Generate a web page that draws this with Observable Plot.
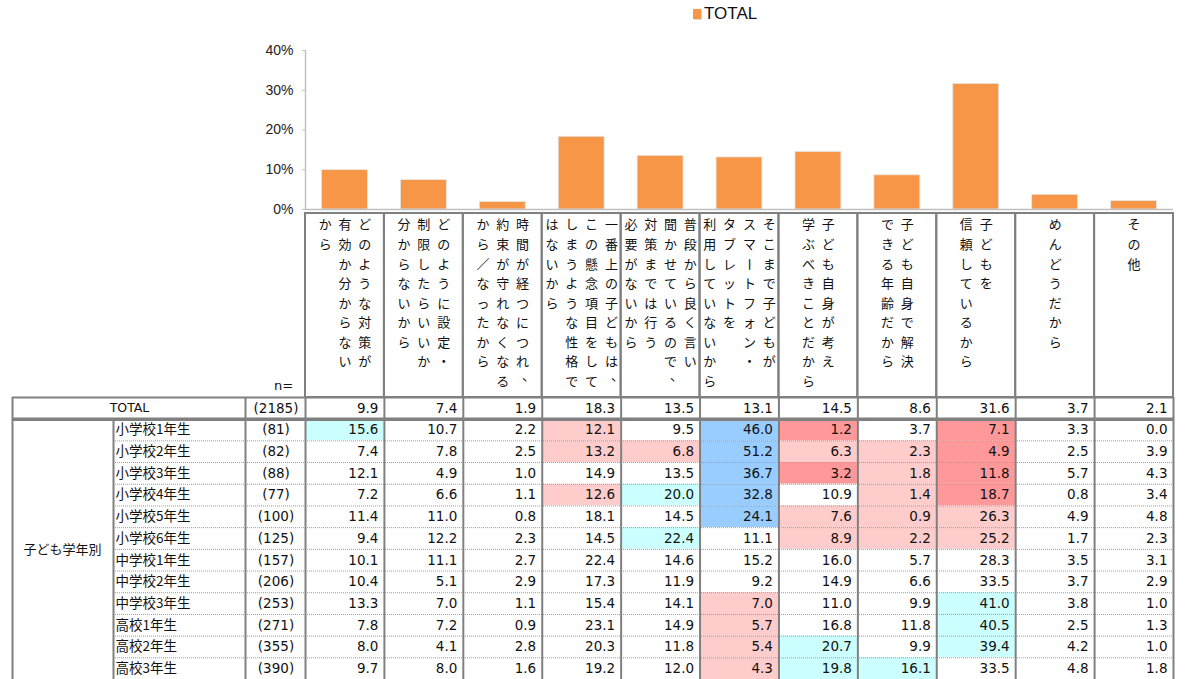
<!DOCTYPE html>
<html><head><meta charset="utf-8">
<script src="https://cdn.jsdelivr.net/npm/d3@7"></script>
<script src="https://cdn.jsdelivr.net/npm/@observablehq/plot@0.6"></script>
<style>
body{margin:0;background:#fff;}
#wrap{position:relative;width:1185px;height:679px;overflow:hidden;background:#fff;}
.abs{position:absolute;left:0;}
#legend{position:absolute;left:693px;top:4px;font-family:"Liberation Sans",Arial,sans-serif;font-size:17px;color:#111;display:flex;align-items:center;}
#legend span.sw{display:inline-block;width:8px;height:10px;background:#F79646;margin-right:3px;box-shadow:1px 1px 0 #ddd;}
</style>
</head><body>
<div id="wrap">
  <div id="legend"><span class="sw"></span>TOTAL</div>
  <div id="pA" class="abs" style="top:0"></div>
  <div id="pB" class="abs" style="top:210px"></div>
  <div id="pC" class="abs" style="top:395px"></div>
</div>
<script>
// ---------------- DATA ----------------
const categories = [
  "どのような対策が有効か分からないから",
  "どのように設定・制限したらいいか分からないから",
  "時間が経つにつれ、約束が守れなくなるから／なったから",
  "一番上の子どもは、この懸念項目をしてしまうような性格ではないから",
  "普段から良く言い聞かせているので、対策までは行う必要がないから",
  "そこまで子どもがスマートフォン・タブレットを利用していないから",
  "子ども自身が考え学ぶべきことだから",
  "子ども自身で解決できる年齢だから",
  "子どもを信頼しているから",
  "めんどうだから",
  "その他"
];
// header label lines as shown (vertical writing, first line is rightmost)
const categoryLines = [
  ["どのような対策が","有効か分からない","から"],
  ["どのように設定・","制限したらいいか","分からないから"],
  ["時間が経つにつれ、","約束が守れなくなる","から／なったから"],
  ["一番上の子どもは、","この懸念項目をして","しまうような性格で","はないから"],
  ["普段から良く言い","聞かせているので、","対策までは行う","必要がないから"],
  ["そこまで子どもが","スマートフォン・","タブレットを","利用していないから"],
  ["子ども自身が考え","学ぶべきことだから"],
  ["子ども自身で解決","できる年齢だから"],
  ["子どもを","信頼しているから"],
  ["めんどうだから"],
  ["その他"]
];
const yTicks = [0, 0.1, 0.2, 0.3, 0.4];
const groupLabel = "子ども学年別";
const totalLabel = "TOTAL";
const totalN = 2185;
const totalValues = [9.9, 7.4, 1.9, 18.3, 13.5, 13.1, 14.5, 8.6, 31.6, 3.7, 2.1];
const grades = ["小学校1年生","小学校2年生","小学校3年生","小学校4年生","小学校5年生","小学校6年生",
                "中学校1年生","中学校2年生","中学校3年生","高校1年生","高校2年生","高校3年生"];
const gradeN = [81, 82, 88, 77, 100, 125, 157, 206, 253, 271, 355, 390];
const e1 = [15.6, 10.7, 2.2, 12.1, 9.5, 46.0, 1.2, 3.7, 7.1, 3.3, 0.0];
const e2 = [7.4, 7.8, 2.5, 13.2, 6.8, 51.2, 6.3, 2.3, 4.9, 2.5, 3.9];
const e3 = [12.1, 4.9, 1.0, 14.9, 13.5, 36.7, 3.2, 1.8, 11.8, 5.7, 4.3];
const e4 = [7.2, 6.6, 1.1, 12.6, 20.0, 32.8, 10.9, 1.4, 18.7, 0.8, 3.4];
const e5 = [11.4, 11.0, 0.8, 18.1, 14.5, 24.1, 7.6, 0.9, 26.3, 4.9, 4.8];
const e6 = [9.4, 12.2, 2.3, 14.5, 22.4, 11.1, 8.9, 2.2, 25.2, 1.7, 2.3];
const j1 = [10.1, 11.1, 2.7, 22.4, 14.6, 15.2, 16.0, 5.7, 28.3, 3.5, 3.1];
const j2 = [10.4, 5.1, 2.9, 17.3, 11.9, 9.2, 14.9, 6.6, 33.5, 3.7, 2.9];
const j3 = [13.3, 7.0, 1.1, 15.4, 14.1, 7.0, 11.0, 9.9, 41.0, 3.8, 1.0];
const h1 = [7.8, 7.2, 0.9, 23.1, 14.9, 5.7, 16.8, 11.8, 40.5, 2.5, 1.3];
const h2 = [8.0, 4.1, 2.8, 20.3, 11.8, 5.4, 20.7, 9.9, 39.4, 4.2, 1.0];
const h3 = [9.7, 8.0, 1.6, 19.2, 12.0, 4.3, 19.8, 16.1, 33.5, 4.8, 1.8];
const gradeValues = [e1, e2, e3, e4, e5, e6, j1, j2, j3, h1, h2, h3];

// ---------------- LAYOUT / STYLE ----------------
const W = 1185;
const X0 = 305, X1 = 1173;            // data column area
const NC = categories.length;
const CW = (X1 - X0) / NC;
const toU = px => (px - X0) / CW;      // layout pixel -> column units
const LINE_PITCH = 19.8;
const ORANGE = "#F79646";
const GRID = "#808080";
const JP = "'Noto Sans CJK JP','Noto Sans',sans-serif";
const LAT = "'DejaVu Sans',Verdana,sans-serif";
const diffColors = ["#FF9999", "#FFCCCC", "#FFFFFF", "#CCFFFF", "#99CCFF"];

// ---------------- BAR CHART ----------------
const barData = categories.map((c, i) => ({c, i, v: totalValues[i] / 100}));
const plotA = Plot.plot({
  width: W, height: 212,
  marginLeft: X0, marginRight: W - X1, marginTop: 50, marginBottom: 3,
  x: {domain: [0, NC], axis: null},
  y: {domain: [0, 0.4], axis: null, label: null},
  style: {background: "transparent", overflow: "visible", fontFamily: "'Liberation Sans',Arial,sans-serif"},
  marks: [
    Plot.rectY(barData, {x1: "i", x2: d => d.i + 1, y: "v", insetLeft: 16.5, insetRight: 16.5, fill: ORANGE, stroke: "#e6e6e6", strokeWidth: 0.8}),
    Plot.ruleY([0], {x1: 0, x2: NC, stroke: "#c0c0c0", strokeWidth: 1.5}),
    Plot.ruleX([0], {y1: 0, y2: 0.4, stroke: "#c0c0c0", strokeWidth: 1.5}),
    Plot.axisY({ticks: yTicks, tickFormat: d3.format(".0%"), tickSize: 3, tickPadding: 9, stroke: "#c0c0c0", fill: "#222", fontSize: 14, label: null})
  ]
});
document.getElementById("pA").append(plotA);

// ---------------- HEADER (vertical text) ----------------
const chars = [];
categoryLines.forEach((lines, col) => {
  const n = lines.length;
  lines.forEach((line, k) => {
    Array.from(line).forEach((ch, row) => {
      chars.push({col, row, ch, x: col + 0.5 + ((n - 1) / 2 - k) * LINE_PITCH / CW});
    });
  });
});
const isPunct = d => d.ch === "、";
const plotB = Plot.plot({
  width: W, height: 187,
  marginLeft: X0, marginRight: W - X1, marginTop: 3, marginBottom: 0,
  x: {domain: [0, NC], axis: null},
  y: {domain: [-0.6, 8.8], reverse: true, axis: null},
  style: {background: "transparent", overflow: "visible", fontFamily: JP},
  marks: [
    Plot.rect(categories.map((c, i) => ({c, i})), {x1: "i", x2: d => d.i + 1, y1: -0.6, y2: 8.8, fill: "none", stroke: GRID, strokeWidth: 2}),
    Plot.text(chars.filter(d => !isPunct(d)), {x: "x", y: "row", text: "ch", fontSize: 13, fill: "#111",
      rotate: d => (d.ch === "ー" ? 90 : 0)}),
    Plot.text(chars.filter(isPunct), {x: "x", y: "row", text: "ch", fontSize: 13, fill: "#111", dx: 6, dy: -6}),
    Plot.text(["n="], {x: toU(283), y: 8.2, text: d => d, fontSize: 13, fontFamily: LAT, fill: "#111"})
  ]
});
document.getElementById("pB").append(plotB);

// ---------------- TABLE BODY ----------------
const rows = [{label: totalLabel, n: totalN, values: totalValues}]
  .concat(grades.map((g, i) => ({label: g, n: gradeN[i], values: gradeValues[i]})));
const cells = [];
rows.forEach((r, ri) => r.values.forEach((v, c) => cells.push({r: ri, c, v, diff: v - totalValues[c]})));
const NR = rows.length;
const plotC = Plot.plot({
  width: W, height: 284,
  marginLeft: X0, marginRight: W - X1, marginTop: 2, marginBottom: 0,
  x: {domain: [0, NC], axis: null},
  y: {domain: [0, NR], reverse: true, axis: null},
  color: {type: "threshold", domain: [-10, -5, 5, 10], range: diffColors},
  style: {background: "transparent", overflow: "visible", fontFamily: LAT},
  marks: [
    Plot.rect(cells, {x1: "c", x2: d => d.c + 1, y1: "r", y2: d => d.r + 1, fill: "diff"}),
    // dotted row separators
    Plot.ruleY(d3.range(2, NR), {x1: toU(113), x2: NC, stroke: "#9a9a9a", strokeWidth: 1, strokeDasharray: "1,1"}),
    // solid horizontal borders
    Plot.ruleY([0], {x1: toU(12), x2: NC, stroke: GRID, strokeWidth: 2}),
    Plot.ruleY([1], {x1: toU(12), x2: NC, stroke: GRID, strokeWidth: 3.5}),
    // vertical borders
    Plot.ruleX(d3.range(0, NC + 1), {y1: 0, y2: NR, stroke: GRID, strokeWidth: 2}),
    Plot.ruleX([toU(12), toU(245)], {y1: 0, y2: NR, stroke: GRID, strokeWidth: 2}),
    Plot.ruleX([toU(113)], {y1: 1, y2: NR, stroke: GRID, strokeWidth: 2}),
    // values
    Plot.text(cells, {x: d => d.c + 1, y: d => d.r + 0.5, text: d => d.v.toFixed(1), textAnchor: "end", dx: -6, fontSize: 13.5, fill: "#111"}),
    // n column
    Plot.text(rows, {x: toU(275.5), y: (d, i) => i + 0.5, text: d => `(${d.n})`, fontSize: 13.5, fill: "#111"}),
    // row labels
    Plot.text(rows.slice(0, 1), {x: toU(129), y: 0.5, text: "label", fontSize: 12.5, fill: "#111"}),
    Plot.text(rows.slice(1), {x: toU(115), y: (d, i) => i + 1.5, text: "label", textAnchor: "start", fontSize: 13.5, fontFamily: JP, fill: "#111"}),
    Plot.text([groupLabel], {x: toU(62), y: (1 + NR) / 2, text: d => d, fontSize: 13, fontFamily: JP, fill: "#111"})
  ]
});
document.getElementById("pC").append(plotC);
</script>
</body></html>
